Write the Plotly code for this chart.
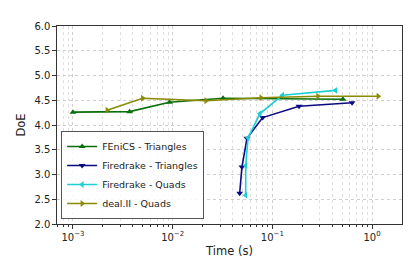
import plotly.graph_objects as go

fenics_t = [0.001, 0.0037, 0.0093, 0.032, 0.51]
fenics_y = [4.26, 4.27, 4.46, 4.54, 4.52]

fdtri_t = [0.047, 0.0495, 0.0556, 0.080, 0.185, 0.63]
fdtri_y = [2.62, 3.15, 3.73, 4.15, 4.38, 4.45]

fdquad_t = [0.054, 0.054, 0.057, 0.075, 0.126, 0.43]
fdquad_y = [2.58, 3.18, 3.74, 4.23, 4.60, 4.70]

deal_t = [0.0022, 0.0050, 0.0216, 0.077, 0.286, 1.15]
deal_y = [4.30, 4.54, 4.49, 4.55, 4.58, 4.58]

series = [
    ("FEniCS - Triangles", fenics_t, fenics_y, "#0b6e0b", "triangle-up"),
    ("Firedrake - Triangles", fdtri_t, fdtri_y, "#0a0a80", "triangle-down"),
    ("Firedrake - Quads", fdquad_t, fdquad_y, "#1ccfd2", "triangle-left"),
    ("deal.II - Quads", deal_t, deal_y, "#8a8a05", "triangle-right"),
]

xticks = [0.001, 0.01, 0.1, 1]
xticktext = ["10<sup>\u22123</sup>", "10<sup>\u22122</sup>", "10<sup>\u22121</sup>", "10<sup>0</sup>"]
xminor = [m * d for d in [0.0001, 0.001, 0.01, 0.1, 1] for m in range(2, 10)]
yticks = [2.0, 2.5, 3.0, 3.5, 4.0, 4.5, 5.0, 5.5, 6.0]

fig = go.Figure()
for name, t, y, c, sym in series:
    fig.add_trace(go.Scatter(
        x=t, y=y, name=name, mode="lines+markers",
        line=dict(color=c, width=1.6),
        marker=dict(symbol=sym, size=6, color=c),
    ))

fig.update_layout(
    width=415, height=260,
    margin=dict(l=49, r=21, t=13, b=39),
    paper_bgcolor="white", plot_bgcolor="white",
    font=dict(family="DejaVu Sans", size=10, color="#222"),
    showlegend=True,
    legend=dict(x=0.012, y=0.025, xanchor="left", yanchor="bottom",
                bgcolor="rgba(255,255,255,0.85)", bordercolor="#555", borderwidth=1,
                font=dict(size=9.5), tracegroupgap=0, itemwidth=30),
)
fig.update_xaxes(
    type="log", range=[-3.16, 0.30],
    tickvals=xticks, ticktext=xticktext,
    ticks="outside", ticklen=3.5, tickcolor="#333",
    showline=True, linecolor="#333", linewidth=1.2, mirror=True,
    showgrid=True, gridcolor="#cfcfcf", griddash="dot", gridwidth=1,
    minor=dict(tickvals=xminor, ticks="outside", ticklen=2, tickcolor="#333",
               showgrid=True, gridcolor="#e0e0e0", griddash="dot", gridwidth=1),
    title=dict(text="Time (s)", font=dict(size=11.5), standoff=5),
    zeroline=False,
)
fig.update_yaxes(
    range=[2.0, 6.0], tickvals=yticks, ticktext=[f"{v:.1f}" for v in yticks],
    ticks="outside", ticklen=3.5, tickcolor="#333",
    showline=True, linecolor="#333", linewidth=1.2, mirror=True,
    showgrid=True, gridcolor="#cfcfcf", griddash="dot", gridwidth=1,
    title=dict(text="DoE", font=dict(size=11.5), standoff=6),
    zeroline=False,
)
fig.write_html("out.html")
